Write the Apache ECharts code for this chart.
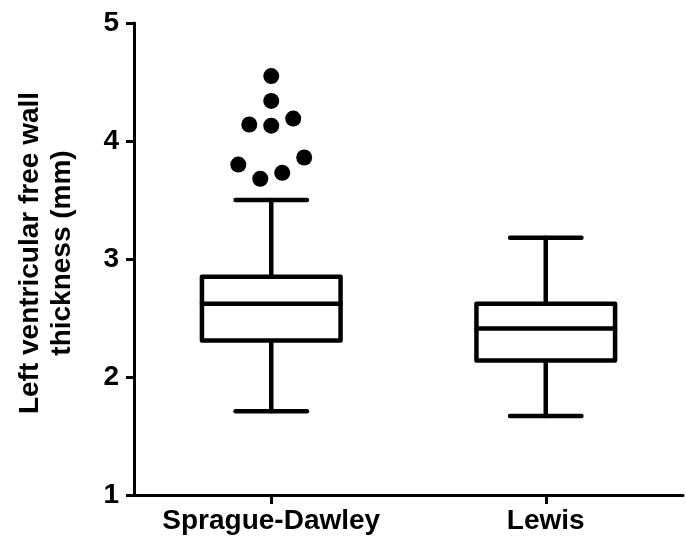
<!DOCTYPE html>
<html>
<head>
<meta charset="utf-8">
<script src="https://cdn.jsdelivr.net/npm/echarts@6/dist/echarts.min.js"></script>
<style>html,body{margin:0;padding:0;background:#fff;}#c{width:686px;height:540px;}</style>
</head>
<body>
<div id="c"></div>
<script>
// ---- data ----
var categories = ['Sprague-Dawley', 'Lewis'];
var lowWhisker = [1.71, 1.67];
var q1 = [2.31, 2.14];
var median = [2.62, 2.41];
var q3 = [2.85, 2.62];
var highWhisker = [3.50, 3.18];
var outlierValues = [4.55, 4.34, 4.14, 4.13, 4.19, 3.80, 3.68, 3.73, 3.86];
var outlierJitter = [0, 0, -0.08, 0, 0.08, -0.12, -0.04, 0.04, 0.12];
var outlierGroup = [0, 0, 0, 0, 0, 0, 0, 0, 0];
var yTicks = [1, 2, 3, 4, 5];
var yTitle = 'Left ventricular free wall\nthickness (mm)';

// ---- build ----
var boxData = categories.map(function (c, i) {
  return [i, lowWhisker[i], q1[i], median[i], q3[i], highWhisker[i]];
});
var outlierData = outlierValues.map(function (v, i) {
  return [outlierGroup[i] + outlierJitter[i], v];
});

var FONT = '"Liberation Sans", Arial, sans-serif';
var LW = 4.5;

var chart = echarts.init(document.getElementById('c'), null, { renderer: 'canvas' });
chart.setOption({
  backgroundColor: '#fff',
  animation: false,
  grid: { left: 134, right: 3, top: 23, bottom: 45, containLabel: false },
  xAxis: [{
    type: 'category',
    data: categories,
    boundaryGap: true,
    axisLine: { onZero: false, lineStyle: { color: '#000', width: 3 } },
    axisTick: { show: true, alignWithLabel: true, length: 9, lineStyle: { color: '#000', width: 3 } },
    axisLabel: { interval: 0, color: '#000', fontFamily: FONT, fontWeight: 'bold', fontSize: 28, margin: 12 },
    splitLine: { show: false }
  }, {
    type: 'value', min: -0.5, max: 1.5, show: false,
    axisLine: { onZero: false }
  }],
  yAxis: {
    type: 'value',
    min: yTicks[0],
    max: yTicks[yTicks.length - 1],
    interval: 1,
    name: yTitle,
    nameLocation: 'middle',
    nameRotate: 90,
    nameGap: 56,
    nameTextStyle: { color: '#000', fontFamily: FONT, fontWeight: 'bold', fontSize: 28, lineHeight: 32, align: 'center', padding: [0, 0, 0, 12] },
    axisLine: { show: true, onZero: false, lineStyle: { color: '#000', width: 3 } },
    axisTick: { show: true, length: 8, lineStyle: { color: '#000', width: 3 } },
    axisLabel: { color: '#000', fontFamily: FONT, fontWeight: 'bold', fontSize: 28, margin: 15 },
    splitLine: { show: false }
  },
  series: [{
    type: 'custom',
    xAxisIndex: 0,
    data: boxData,
    encode: { x: 0, y: [1, 2, 3, 4, 5] },
    renderItem: function (params, api) {
      var idx = api.value(0);
      var pLow = api.coord([idx, api.value(1)]);
      var pQ1 = api.coord([idx, api.value(2)]);
      var pMed = api.coord([idx, api.value(3)]);
      var pQ3 = api.coord([idx, api.value(4)]);
      var pHigh = api.coord([idx, api.value(5)]);
      var band = api.size([1, 0])[0];
      var bw = band * 0.505;
      var cw = band * 0.26;
      var cx = pLow[0];
      var st = { stroke: '#000', lineWidth: LW, fill: null, lineCap: 'round', lineJoin: 'round' };
      return {
        type: 'group',
        children: [
          { type: 'line', shape: { x1: cx, y1: pQ3[1], x2: cx, y2: pHigh[1] }, style: st },
          { type: 'line', shape: { x1: cx - cw / 2, y1: pHigh[1], x2: cx + cw / 2, y2: pHigh[1] }, style: st },
          { type: 'line', shape: { x1: cx, y1: pQ1[1], x2: cx, y2: pLow[1] }, style: st },
          { type: 'line', shape: { x1: cx - cw / 2, y1: pLow[1], x2: cx + cw / 2, y2: pLow[1] }, style: st },
          { type: 'rect', shape: { x: cx - bw / 2, y: pQ3[1], width: bw, height: pQ1[1] - pQ3[1] },
            style: { stroke: '#000', lineWidth: LW, fill: '#fff', lineJoin: 'round' } },
          { type: 'line', shape: { x1: cx - bw / 2, y1: pMed[1], x2: cx + bw / 2, y2: pMed[1] }, style: st }
        ]
      };
    }
  }, {
    type: 'scatter',
    xAxisIndex: 1,
    data: outlierData,
    symbol: 'circle',
    symbolSize: 16,
    itemStyle: { color: '#000', opacity: 1 }
  }]
});
</script>
</body>
</html>
